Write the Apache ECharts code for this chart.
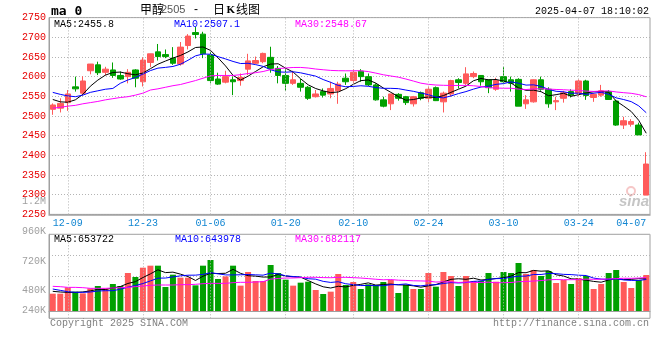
<!DOCTYPE html>
<html><head><meta charset="utf-8">
<script src="https://cdn.jsdelivr.net/npm/echarts@6/dist/echarts.min.js"></script>
<style>html,body{margin:0;padding:0;background:#fff}#c{width:660px;height:360px}</style>
</head><body><div id="c"></div>
<script>
const dates = ['12-05','12-06','12-09','12-10','12-11','12-12','12-13','12-16','12-17','12-18',
'12-19','12-20','12-23','12-24','12-25','12-26','12-27','12-30','12-31','01-02',
'01-03','01-06','01-07','01-08','01-09','01-10','01-13','01-14','01-15','01-16',
'01-17','01-20','01-21','01-22','01-23','01-24','01-27','02-05','02-06','02-07',
'02-10','02-11','02-12','02-13','02-14','02-17','02-18','02-19','02-20','02-21',
'02-24','02-25','02-26','02-27','02-28','03-03','03-04','03-05','03-06','03-07',
'03-10','03-11','03-12','03-13','03-14','03-17','03-18','03-19','03-20','03-21',
'03-24','03-25','03-26','03-27','03-28','03-31','04-01','04-02','04-03','04-07'];
const gridDates = ['12-09','12-23','01-06','01-20','02-10','02-24','03-10','03-24'];
const labelDates = ['12-09','12-23','01-06','01-20','02-10','02-24','03-10','03-24','04-07'];

const opens = [2517,2520,2534,2574,2558,2615,2630,2611,2617,2603, 2600,2617,2587,2636,2663,2656,2647,2632,2679,2712, 2708,2655,2594,2586,2592,2590,2619,2634,2638,2649, 2621,2603,2583,2583,2573,2549,2562,2556,2564,2596, 2590,2614,2600,2579,2541,2531,2555,2549,2531,2559, 2545,2572,2536,2556,2592,2583,2600,2603,2592,2568, 2600,2592,2593,2531,2536,2592,2568,2536,2545,2562, 2558,2589,2547,2553,2562,2538,2477,2479,2477,2299];
const closes = [2528,2532,2556,2569,2589,2632,2610,2619,2603,2594, 2611,2596,2642,2658,2651,2651,2634,2675,2703,2707, 2658,2590,2581,2600,2587,2598,2640,2641,2659,2621, 2603,2583,2592,2573,2545,2556,2553,2570,2581,2587, 2611,2600,2579,2541,2525,2556,2545,2534,2549,2545, 2568,2539,2558,2590,2585,2607,2608,2587,2572,2590, 2587,2583,2525,2541,2592,2568,2531,2539,2559,2553, 2589,2552,2555,2564,2542,2477,2488,2486,2452,2378];
const lows = [2503,2509,2513,2562,2552,2606,2604,2603,2597,2592, 2583,2573,2575,2624,2641,2647,2630,2628,2669,2697, 2647,2583,2579,2583,2553,2577,2604,2632,2634,2610, 2583,2564,2579,2562,2541,2547,2547,2545,2531,2579, 2583,2587,2576,2539,2522,2515,2539,2528,2524,2540, 2536,2538,2509,2549,2570,2579,2596,2577,2558,2564, 2583,2562,2525,2518,2534,2564,2521,2515,2534,2547, 2551,2541,2536,2549,2541,2475,2467,2473,2452,2299];
const highs = [2532,2545,2566,2600,2601,2632,2638,2625,2636,2613, 2619,2619,2649,2658,2683,2669,2675,2688,2708,2726, 2714,2663,2610,2615,2600,2608,2658,2651,2661,2676, 2627,2621,2615,2594,2576,2566,2570,2587,2587,2608, 2619,2619,2608,2583,2549,2556,2558,2551,2551,2562, 2575,2575,2562,2592,2596,2624,2613,2604,2592,2597, 2625,2600,2596,2553,2593,2600,2573,2549,2564,2568, 2593,2592,2558,2579,2566,2541,2498,2492,2483,2408];
const volumesK = [354,354,483,395,361,463,511,463,552,511, 776,695,885,926,926,490,742,681,681,524, 926,1042,654,708,926,518,797,613,613,940, 776,640,518,579,599,429,347,395,756,531, 592,449,545,531,592,633,368,531,449,449, 776,497,797,715,511,715,613,613,776,599, 797,776,981,756,838,715,817,572,633,552, 674,715,449,552,776,838,592,470,633,735];

// MA values before enough in-window history
const ma5Head = [2542,2536,2535,2541];
const ma10Head = [2560,2555,2551,2549,2553,2560,2564,2568,2570];
const ma30Head = [2520,2522,2525,2527,2531,2534,2537,2541,2544,2547,2549,2553,2558,2566,2569,2573,2577,2580,2585,2590,2596,2602,2603,2603,2603,2605,2608,2610,2613];
const vma5HeadK = [402,388,381,381];
const vma10HeadK = [449,422,395,381,381,388,409,415,415];
const vma30HeadK = [504,497,483,483,477,463,463,463,470,477,483,497,511,524,531,531,531,538,538,545,558,565,565,565,579,586,586,592,599];

// legend texts as printed on the reference
const priceLegend = ['MA5:2455.8', 'MA10:2507.1', 'MA30:2548.67'];
const volLegend = ['MA5:653722', 'MA10:643978', 'MA30:682117'];
const volLabels = ['1.2M','960K','720K','480K','240K'];

function movingAvg(arr, n, head) {
  return arr.map((v, i) => {
    if (i < n - 1) return head[i];
    let s = 0; for (let k = i - n + 1; k <= i; k++) s += arr[k];
    return s / n;
  });
}
const volumes = volumesK.map(v => v * 1000);
const ma5 = movingAvg(closes, 5, ma5Head);
const ma10 = movingAvg(closes, 10, ma10Head);
const ma30 = movingAvg(closes, 30, ma30Head);
const vma5 = movingAvg(volumes, 5, vma5HeadK.map(v => v * 1000));
const vma10 = movingAvg(volumes, 10, vma10HeadK.map(v => v * 1000));
const vma30 = movingAvg(volumes, 30, vma30HeadK.map(v => v * 1000));
const kdata = dates.map((d, i) => [opens[i], closes[i], lows[i], highs[i]]);

const UP = '#ff5a5a', DOWN = '#00a000';
const MONO = "'Liberation Mono','DejaVu Sans Mono',monospace";
const GRIDC = '#b4b4b4';
const BORDER = '#a0a0a0';

const vLine = {
  silent: true, symbol: ['none','none'], animation: false,
  label: { show: false },
  lineStyle: { color: GRIDC, type: [1, 2], width: 1 },
  data: gridDates.map(d => ({ xAxis: d }))
};
const t10 = (text, left, top, fill) => ({ type: 'text', left, top, style: { text, font: "10px " + MONO, fill } });
const vl = (text, y) => ({ type: 'text', x: 46, y, style: { text, font: "10px " + MONO, fill: '#a0a0a0', align: 'right', verticalAlign: 'middle' } });

const chart = echarts.init(document.getElementById('c'), null, { renderer: 'canvas' });
chart.setOption({
  animation: false,
  backgroundColor: '#fff',
  grid: [
    { left: 49, right: 10, top: 17.6, height: 196.8, show: true, borderColor: BORDER, borderWidth: 1 },
    { left: 49, right: 10, top: 234.3, height: 84, show: true, borderColor: BORDER, borderWidth: 1 }
  ],
  xAxis: [
    { type: 'category', gridIndex: 0, data: dates, boundaryGap: true,
      axisLine: { lineStyle: { color: BORDER, width: 1.5 } }, axisTick: { show: false },
      axisLabel: { interval: (i, v) => labelDates.includes(v), color: '#1286d2', fontFamily: MONO, fontSize: 10, margin: 4, alignMaxLabel: 'right' },
      splitLine: { show: false } },
    { type: 'category', gridIndex: 1, data: dates, boundaryGap: true,
      axisLine: { lineStyle: { color: BORDER } }, axisTick: { show: false }, axisLabel: { show: false }, splitLine: { show: false } }
  ],
  yAxis: [
    { type: 'value', gridIndex: 0, min: 2250, max: 2750, interval: 50,
      axisLine: { show: true, lineStyle: { color: BORDER } }, axisTick: { show: false },
      axisLabel: { color: '#e60000', fontFamily: MONO, fontSize: 10, margin: 3, formatter: v => String(v) },
      splitLine: { lineStyle: { color: GRIDC, type: [1, 2] } } },
    { type: 'value', gridIndex: 1, min: -149000, max: 1567000,
      axisLine: { show: true, lineStyle: { color: BORDER } }, axisTick: { show: false },
      axisLabel: { show: false }, splitLine: { show: false } },
    { type: 'value', gridIndex: 1, min: 0, max: 4, interval: 1, position: 'left',
      axisLine: { show: false }, axisTick: { show: false }, axisLabel: { show: false },
      splitLine: { lineStyle: { color: GRIDC, type: [1, 2] } } }
  ],
  series: [
    { type: 'line', xAxisIndex: 0, yAxisIndex: 0, data: dates.map(() => null), z: 1, markLine: vLine },
    { type: 'line', xAxisIndex: 1, yAxisIndex: 1, data: dates.map(() => null), z: 1, markLine: vLine },
    { type: 'candlestick', xAxisIndex: 0, yAxisIndex: 0, data: kdata, barWidth: 6,
      itemStyle: { color: UP, color0: DOWN, borderColor: UP, borderColor0: DOWN, borderWidth: 1 } },
    { type: 'line', xAxisIndex: 0, yAxisIndex: 0, data: ma5, showSymbol: false, lineStyle: { color: '#000', width: 1 } },
    { type: 'line', xAxisIndex: 0, yAxisIndex: 0, data: ma10, showSymbol: false, lineStyle: { color: '#0000ff', width: 1 } },
    { type: 'line', xAxisIndex: 0, yAxisIndex: 0, data: ma30, showSymbol: false, lineStyle: { color: '#ff00ff', width: 1 } },
    { type: 'bar', xAxisIndex: 1, yAxisIndex: 1, data: volumes, barWidth: 6,
      itemStyle: { color: p => closes[p.dataIndex] >= opens[p.dataIndex] ? UP : DOWN } },
    { type: 'line', xAxisIndex: 1, yAxisIndex: 1, data: vma5, showSymbol: false, lineStyle: { color: '#000', width: 1 } },
    { type: 'line', xAxisIndex: 1, yAxisIndex: 1, data: vma10, showSymbol: false, lineStyle: { color: '#0000ff', width: 1 } },
    { type: 'line', xAxisIndex: 1, yAxisIndex: 1, data: vma30, showSymbol: false, lineStyle: { color: '#ff00ff', width: 1 } }
  ],
  graphic: [
    { type: 'text', left: 51, top: 5, style: { text: 'ma 0', font: "bold 13px 'DejaVu Sans Mono'", fill: '#000' } },
    { type: 'text', x: 140, y: 9.5, style: { text: '甲醇', font: "12px 'Noto Sans CJK SC'", fill: '#000', verticalAlign: 'middle' } },
    { type: 'text', x: 161, y: 10, style: { text: '2505', font: "11px 'Liberation Sans'", fill: '#555', verticalAlign: 'middle' } },
    { type: 'text', x: 194, y: 9.5, style: { text: '-', font: "12px 'Liberation Sans'", fill: '#000', verticalAlign: 'middle' } },
    { type: 'text', x: 213, y: 9.5, style: { text: '日', font: "12px 'Noto Sans CJK SC'", fill: '#000', verticalAlign: 'middle' } },
    { type: 'text', x: 226.5, y: 10, style: { text: 'K', font: "bold 11px 'Liberation Serif'", fill: '#000', verticalAlign: 'middle' } },
    { type: 'text', x: 236, y: 9.5, style: { text: '线图', font: "12px 'Noto Sans CJK SC'", fill: '#000', verticalAlign: 'middle' } },
    { type: 'text', right: 11, top: 6, style: { text: '2025-04-07 18:10:02', font: "10px " + MONO, fill: '#000' } },
    t10(priceLegend[0], 54, 19, '#000'),
    t10(priceLegend[1], 174, 19, '#0000ff'),
    t10(priceLegend[2], 295, 19, '#ff00ff'),
    t10(volLegend[0], 54, 234.5, '#000'),
    t10(volLegend[1], 175, 234.5, '#0000ff'),
    t10(volLegend[2], 295, 234.5, '#ff00ff'),
    vl(volLabels[0], 201), vl(volLabels[1], 231), vl(volLabels[2], 261), vl(volLabels[3], 290.7), vl(volLabels[4], 310.7),
    t10('Copyright 2025 SINA.COM', 50, 318, '#808080'),
    { type: 'text', right: 11, top: 318, style: { text: 'http://finance.sina.com.cn', font: "10px " + MONO, fill: '#808080' } },
    { type: 'text', x: 634, y: 202, z: 0, style: { text: 'sina', font: "italic bold 15px 'Liberation Sans'", fill: 'rgba(150,150,150,0.55)', align: 'center', verticalAlign: 'middle' } },
    { type: 'circle', shape: { cx: 631, cy: 191, r: 4 }, z: 0, style: { fill: 'none', stroke: 'rgba(235,130,130,0.45)', lineWidth: 2 } }
  ]
});
</script></body></html>
